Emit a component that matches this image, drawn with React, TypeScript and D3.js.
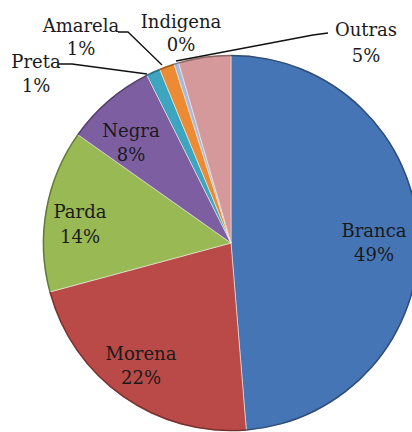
import React from "react";
import * as d3 from "d3";

const categories = ["Branca", "Morena", "Parda", "Negra", "Preta", "Amarela", "Indigena", "Outras"];
const values = [48.7, 22.1, 14.0, 7.8, 1.2, 1.3, 0.4, 4.5];
const percentLabels = ["49%", "22%", "14%", "8%", "1%", "1%", "0%", "5%"];
const colors = ["#4675B5", "#B94A48", "#98B954", "#7D5FA1", "#3DA5C0", "#EC8B34", "#A8B9DC", "#D5999B"];

// layout (label anchor centers & baselines, leader polylines)
const labelLayout: Record<string, { x: number; y1: number; y2: number }> = {
  Branca: { x: 374, y1: 237, y2: 261 },
  Morena: { x: 141, y1: 360, y2: 384 },
  Parda: { x: 80, y1: 218, y2: 243 },
  Negra: { x: 131, y1: 137, y2: 161 },
  Preta: { x: 36, y1: 68, y2: 92 },
  Amarela: { x: 81, y1: 32, y2: 55 },
  Indigena: { x: 181, y1: 28, y2: 51 },
  Outras: { x: 366, y1: 36, y2: 62 },
};
const leaders: Record<string, [number, number][]> = {
  Preta: [[58, 64], [72, 64], [147, 74]],
  Amarela: [[118, 32], [128, 32], [162, 65]],
  Outras: [[328, 33], [313, 35], [176, 61]],
};

const W = 412, H = 432;
const cx = 231, cy = 243, R = 188;
const FONT = '"DejaVu Serif", serif';

export default function App() {
  const data = categories.map((c, i) => ({ name: c, value: values[i], color: colors[i], label: percentLabels[i] }));
  const pie = d3.pie<any>().value((d) => d.value).sort(null).startAngle(0).endAngle(2 * Math.PI);
  const arcs = pie(data);
  const arc = d3.arc<any>().innerRadius(0).outerRadius(R);
  const rim = d3.arc<any>().innerRadius(R - 1.2).outerRadius(R + 0.3);
  const line = d3.line();
  return (
    <svg width={W} height={H} style={{ position: "absolute", left: 0, top: 0, background: "#fff" }}>
      <g transform={`translate(${cx},${cy})`}>
        {arcs.map((a, i) => (
          <path key={i} d={arc(a) as string} fill={a.data.color} stroke="#f4f0e8" strokeWidth={0.8} strokeOpacity={0.7} />
        ))}
        {arcs.map((a, i) => (
          <path key={"r" + i} d={rim(a) as string} fill={d3.color(a.data.color)!.darker(1.2).toString()} />
        ))}
      </g>
      {Object.keys(leaders).map((k) => (
        <path key={k} d={line(leaders[k]) as string} fill="none" stroke="#111" strokeWidth={1.3} />
      ))}
      {data.map((d) => {
        const L = labelLayout[d.name];
        return (
          <g key={d.name} style={{ fontFamily: FONT, fontSize: "18px" }} fill="#1a1a1a" textAnchor="middle">
            <text x={L.x} y={L.y1}>{d.name}</text>
            <text x={L.x} y={L.y2}>{d.label}</text>
          </g>
        );
      })}
    </svg>
  );
}
